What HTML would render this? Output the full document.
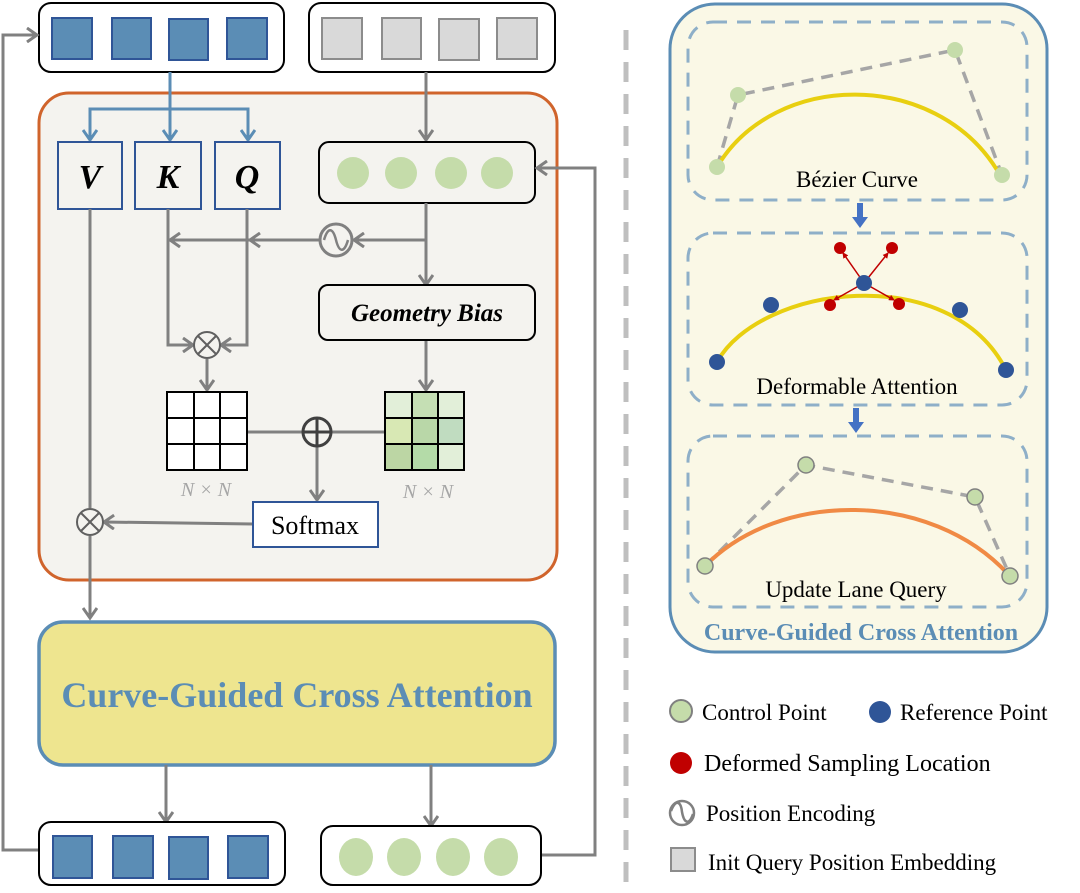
<!DOCTYPE html>
<html><head><meta charset="utf-8"><style>
html,body{margin:0;padding:0;background:#fff;}
svg{display:block;font-family:"Liberation Serif",serif;}
</style></head><body>
<svg width="1080" height="893" viewBox="0 0 1080 893" xmlns="http://www.w3.org/2000/svg">
<defs>
<marker id="ag" markerWidth="14" markerHeight="16" refX="11" refY="8" orient="auto" markerUnits="userSpaceOnUse"><path d="M1,1 L11,8 L1,15" fill="none" stroke="#808080" stroke-width="3"/></marker>
<marker id="ab" markerWidth="14" markerHeight="16" refX="11" refY="8" orient="auto" markerUnits="userSpaceOnUse"><path d="M1,1 L11,8 L1,15" fill="none" stroke="#5b8db5" stroke-width="3"/></marker>
<marker id="ar" markerWidth="6" markerHeight="6" refX="5" refY="3" orient="auto" markerUnits="userSpaceOnUse"><path d="M0,0 L6,3 L0,6z" fill="#c00000"/></marker>
</defs>

<line x1="626" y1="30" x2="626" y2="893" stroke="#bfbfbf" stroke-width="5" stroke-dasharray="20,12"/>

<rect x="39" y="3" width="245" height="69" rx="12" fill="#fff" stroke="#000" stroke-width="2"/>
<g fill="#5b8db5" stroke="#2f5597" stroke-width="2">
<rect x="52" y="18" width="40" height="41"/><rect x="112" y="18" width="39" height="41"/><rect x="169" y="19" width="39" height="41"/><rect x="227" y="18" width="40" height="41"/></g>
<rect x="309" y="3" width="246" height="69" rx="12" fill="#fff" stroke="#000" stroke-width="2"/>
<g fill="#d9d9d9" stroke="#8c8c8c" stroke-width="2">
<rect x="322" y="18" width="40" height="41"/><rect x="382" y="18" width="39" height="41"/><rect x="439" y="19" width="40" height="41"/><rect x="497" y="18" width="40" height="41"/></g>

<rect x="39" y="93" width="518" height="487" rx="30" fill="#f4f3ef" stroke="#d0642c" stroke-width="3"/>

<g stroke="#5b8db5" stroke-width="3" fill="none">
<line x1="170" y1="72" x2="170" y2="140" marker-end="url(#ab)"/>
<polyline points="90,140 90,109 248,109 248,140"/>
<line x1="90" y1="120" x2="90" y2="140" marker-end="url(#ab)"/>
<line x1="248" y1="120" x2="248" y2="140" marker-end="url(#ab)"/>
</g>

<g fill="#f4f3ef" stroke="#2f5597" stroke-width="2">
<rect x="58" y="142" width="64" height="67"/><rect x="135" y="142" width="66" height="67"/><rect x="215" y="142" width="65" height="67"/></g>
<g font-weight="bold" font-style="italic" font-size="34" text-anchor="middle">
<text x="90" y="188">V</text><text x="168" y="188">K</text><text x="247" y="188">Q</text></g>

<line x1="426" y1="72" x2="426" y2="140" stroke="#808080" stroke-width="3" marker-end="url(#ag)"/>
<rect x="319" y="142" width="216" height="61" rx="10" fill="#f4f3ef" stroke="#000" stroke-width="2"/>
<g fill="#c5dcaa"><circle cx="353" cy="173" r="16"/><circle cx="401" cy="173" r="16"/><circle cx="451" cy="173" r="16"/><circle cx="497" cy="173" r="16"/></g>

<g stroke="#808080" stroke-width="3" fill="none">
<line x1="426" y1="203" x2="426" y2="285" marker-end="url(#ag)"/>
<line x1="426" y1="240" x2="354" y2="240" marker-end="url(#ag)"/>
<line x1="320" y1="240" x2="250" y2="240" marker-end="url(#ag)"/>
<line x1="250" y1="240" x2="170" y2="240" marker-end="url(#ag)"/>
<circle cx="336" cy="240" r="16"/>
<path d="M324,240 C328,226 333,228 336,240 C339,252 344,254 348,240" stroke-width="2.5"/>
<line x1="90" y1="209" x2="90" y2="508"/>
<polyline points="168,209 168,345 193,345" marker-end="url(#ag)"/>
<polyline points="247,209 247,345 221,345" marker-end="url(#ag)"/>
<line x1="207" y1="359" x2="207" y2="390" marker-end="url(#ag)"/>
<line x1="426" y1="340" x2="426" y2="390" marker-end="url(#ag)"/>
<line x1="247" y1="432" x2="385" y2="432"/>
<line x1="317" y1="432" x2="317" y2="500" marker-end="url(#ag)"/>
<line x1="253" y1="524" x2="104" y2="522" marker-end="url(#ag)"/>
<line x1="90" y1="536" x2="90" y2="618" marker-end="url(#ag)"/>
</g>
<g stroke="#606060" stroke-width="2" fill="#f4f3ef">
<circle cx="207" cy="345" r="13"/><line x1="198" y1="336" x2="216" y2="354"/><line x1="216" y1="336" x2="198" y2="354"/>
<circle cx="90" cy="522" r="13"/><line x1="81" y1="513" x2="99" y2="531"/><line x1="99" y1="513" x2="81" y2="531"/>
</g>
<g stroke="#404040" stroke-width="3" fill="#f4f3ef">
<circle cx="317" cy="432" r="14"/><line x1="303" y1="432" x2="331" y2="432"/><line x1="317" y1="418" x2="317" y2="446"/></g>

<rect x="319" y="285" width="216" height="55" rx="9" fill="#f4f3ef" stroke="#000" stroke-width="2"/>
<text x="427" y="321" text-anchor="middle" font-size="25" font-weight="bold" font-style="italic">Geometry Bias</text>

<g stroke="#000" stroke-width="2" fill="#fff">
<rect x="167" y="392" width="80" height="78"/>
<line x1="194" y1="392" x2="194" y2="470"/><line x1="220" y1="392" x2="220" y2="470"/>
<line x1="167" y1="418" x2="247" y2="418"/><line x1="167" y1="444" x2="247" y2="444"/></g>
<g>
<rect x="385" y="392" width="27" height="26" fill="#e2efd9"/><rect x="412" y="392" width="26" height="26" fill="#c5dfb4"/><rect x="438" y="392" width="26" height="26" fill="#e2efd9"/>
<rect x="385" y="418" width="27" height="26" fill="#d8e8b4"/><rect x="412" y="418" width="26" height="26" fill="#b9d7a8"/><rect x="438" y="418" width="26" height="26" fill="#c0dcc0"/>
<rect x="385" y="444" width="27" height="26" fill="#bcd6a4"/><rect x="412" y="444" width="26" height="26" fill="#b4dba8"/><rect x="438" y="444" width="26" height="26" fill="#e2efd9"/>
</g>
<g stroke="#000" stroke-width="2" fill="none">
<rect x="385" y="392" width="79" height="78"/>
<line x1="412" y1="392" x2="412" y2="470"/><line x1="438" y1="392" x2="438" y2="470"/>
<line x1="385" y1="418" x2="464" y2="418"/><line x1="385" y1="444" x2="464" y2="444"/></g>
<g font-size="20" font-style="italic" fill="#a6a6a6" text-anchor="middle">
<text x="206" y="496">N × N</text><text x="428" y="498">N × N</text></g>

<rect x="253" y="502" width="125" height="45" fill="#fff" stroke="#2f5597" stroke-width="2"/>
<text x="315" y="534" text-anchor="middle" font-size="26">Softmax</text>

<rect x="39" y="622" width="516" height="143" rx="24" fill="#eee58f" stroke="#5b8db5" stroke-width="3.5"/>
<text x="297" y="707" text-anchor="middle" font-size="36" font-weight="bold" fill="#5b8db5">Curve-Guided Cross Attention</text>

<g stroke="#808080" stroke-width="3" fill="none">
<line x1="166" y1="765" x2="166" y2="822" marker-end="url(#ag)"/>
<line x1="431" y1="765" x2="431" y2="826" marker-end="url(#ag)"/>
<polyline points="39,850 3,850 3,35 37,35" marker-end="url(#ag)"/>
<polyline points="541,855 595,855 595,168 537,168" marker-end="url(#ag)"/>
</g>
<rect x="39" y="822" width="246" height="63" rx="12" fill="#fff" stroke="#000" stroke-width="2"/>
<g fill="#5b8db5" stroke="#2f5597" stroke-width="2">
<rect x="53" y="836" width="39" height="42"/><rect x="113" y="836" width="40" height="42"/><rect x="169" y="837" width="39" height="42"/><rect x="228" y="836" width="40" height="42"/></g>
<rect x="321" y="826" width="220" height="59" rx="12" fill="#fff" stroke="#000" stroke-width="2"/>
<g fill="#c5dcaa"><ellipse cx="356" cy="857" rx="17" ry="19"/><ellipse cx="404" cy="857" rx="17" ry="19"/><ellipse cx="453" cy="857" rx="17" ry="19"/><ellipse cx="501" cy="857" rx="17" ry="19"/></g>

<rect x="670" y="4" width="377" height="648" rx="45" fill="#faf8e6" stroke="#5b8db5" stroke-width="3"/>
<g fill="none" stroke="#8eafc8" stroke-width="3" stroke-dasharray="14,10">
<rect x="688" y="22" width="339" height="178" rx="25"/>
<rect x="688" y="233" width="339" height="172" rx="25"/>
<rect x="688" y="436" width="339" height="171" rx="25"/>
</g>
<polyline points="717,167 738,95 955,50 1002,175" fill="none" stroke="#a6a6a6" stroke-width="3.5" stroke-dasharray="12,8"/>
<path d="M717,167 C775,70 935,70 997,170" fill="none" stroke="#e8cf10" stroke-width="4"/>
<g fill="#c5dcaa"><circle cx="717" cy="167" r="8"/><circle cx="738" cy="95" r="8"/><circle cx="955" cy="50" r="8"/><circle cx="1002" cy="175" r="8"/></g>
<text x="857" y="187" text-anchor="middle" font-size="23">Bézier Curve</text>
<path d="M857,203 L863,203 L863,217 L868,217 L860,228 L852,217 L857,217z" fill="#4472c4"/>
<path d="M717,362 C760,285 950,260 1006,370" fill="none" stroke="#e8cf10" stroke-width="4"/>
<g stroke="#c00000" stroke-width="1.5" fill="none">
<line x1="864" y1="283" x2="843" y2="253" marker-end="url(#ar)"/>
<line x1="864" y1="283" x2="888" y2="253" marker-end="url(#ar)"/>
<line x1="864" y1="283" x2="834" y2="300" marker-end="url(#ar)"/>
<line x1="864" y1="283" x2="894" y2="300" marker-end="url(#ar)"/>
</g>
<g fill="#c00000"><circle cx="840" cy="248" r="6"/><circle cx="892" cy="248" r="6"/><circle cx="830" cy="305" r="6"/><circle cx="899" cy="304" r="6"/></g>
<g fill="#2f5597"><circle cx="717" cy="362" r="8"/><circle cx="771" cy="305" r="8"/><circle cx="864" cy="283" r="8"/><circle cx="960" cy="310" r="8"/><circle cx="1006" cy="370" r="8"/></g>
<text x="857" y="394" text-anchor="middle" font-size="23">Deformable Attention</text>
<path d="M853,408 L859,408 L859,422 L864,422 L856,433 L848,422 L853,422z" fill="#4472c4"/>
<polyline points="705,566 806,465 975,497 1010,576" fill="none" stroke="#a6a6a6" stroke-width="3.5" stroke-dasharray="12,8"/>
<path d="M705,566 C780,490 930,490 1008,574" fill="none" stroke="#f08a45" stroke-width="4"/>
<g fill="#c5dcaa" stroke="#808080" stroke-width="1.5"><circle cx="705" cy="566" r="8"/><circle cx="806" cy="465" r="8"/><circle cx="975" cy="497" r="8"/><circle cx="1010" cy="576" r="8"/></g>
<text x="856" y="597" text-anchor="middle" font-size="23">Update Lane Query</text>
<text x="861" y="640" text-anchor="middle" font-size="24" font-weight="bold" fill="#5b8db5">Curve-Guided  Cross Attention</text>

<circle cx="681" cy="711" r="11" fill="#c5dcaa" stroke="#808080" stroke-width="2"/>
<text x="702" y="720" font-size="23">Control Point</text>
<circle cx="880" cy="712" r="11" fill="#2f5597"/>
<text x="900" y="720" font-size="23">Reference Point</text>
<circle cx="681" cy="763" r="11" fill="#c00000"/>
<text x="704" y="771" font-size="24">Deformed Sampling Location</text>
<circle cx="682" cy="813" r="12" fill="none" stroke="#808080" stroke-width="2.5"/>
<path d="M671,811 C676,798 681,802 682,812 C684,823 689,826 693,814" fill="none" stroke="#808080" stroke-width="2.5"/>
<text x="706" y="821" font-size="23">Position Encoding</text>
<rect x="671" y="848" width="24" height="23" fill="#d9d9d9" stroke="#8c8c8c" stroke-width="2"/>
<text x="708" y="870" font-size="23">Init Query Position Embedding</text>
</svg>
</body></html>
